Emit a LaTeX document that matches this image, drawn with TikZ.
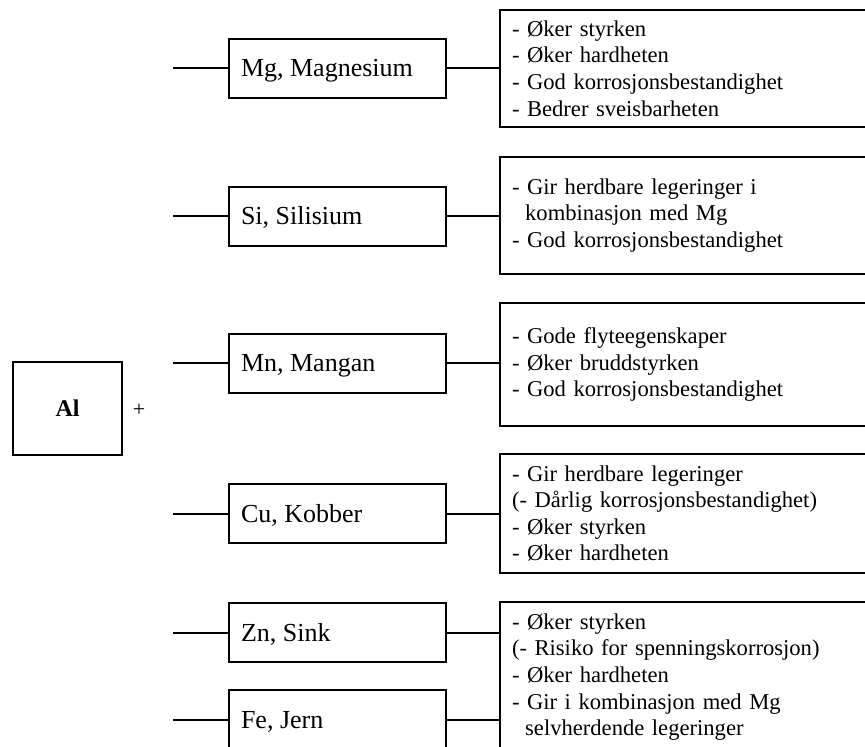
\documentclass[tikz,border=0pt]{standalone}
\usepackage{fontspec}
\setmainfont{Liberation Serif}

\newcommand{\elabel}[1]{\makebox[193pt][l]{#1}}

\begin{document}
\begin{tikzpicture}[x=1pt, y=-1pt, line cap=rect, line join=miter,
	wire/.style={black, line width=2pt},
	elem/.style={draw, line width=2pt, minimum height=59pt, minimum width=217pt,
		text height=17.7pt, text depth=0pt,
		inner xsep=12pt, inner ysep=0pt, font=\fontsize{26}{30}\selectfont},
	props/.style={draw, line width=2pt, anchor=west, text width=380pt,
		inner xsep=12pt, inner ysep=0pt, align=left, font=\fontsize{22.6}{26.6}\selectfont}]
	
	\useasboundingbox (0,0) rectangle (865,747);
	\clip (0,0) rectangle (865,747);
	
	%base metal
	\node [draw, line width=2pt, minimum width=109pt, minimum height=93pt,
	font=\fontsize{24}{28}\selectfont\bfseries] (al) at (67.5,408.5) {Al};
	\node [font=\fontsize{22}{26}\selectfont] (plus) at (139,410) {+};
	
	%alloying elements
	\node [elem] (mg) at (337.5,68) {\elabel{Mg, Magnesium}};
	\node [elem] (si) at (337.5,216) {\elabel{Si, Silisium}};
	\node [elem] (mn) at (337.5,363) {\elabel{Mn, Mangan}};
	\node [elem] (cu) at (337.5,513.5) {\elabel{Cu, Kobber}};
	\node [elem] (zn) at (337.5,632.5) {\elabel{Zn, Sink}};
	\node [elem] (fe) at (337.5,719.5) {\elabel{Fe, Jern}};
	
	%properties
	\node [props, minimum height=117pt] (mgprops) at (499,68.5) 
	{- Øker styrken\\- Øker hardheten\\- God korrosjonsbestandighet\\- Bedrer sveisbarheten};
	\node [props, minimum height=117pt] (siprops) at (499,215.5) 
	{- Gir herdbare legeringer i\\\hspace*{0.583em}kombinasjon med Mg\\- God korrosjonsbestandighet};
	\node [props, minimum height=123pt] (mnprops) at (499,364.5) 
	{- Gode flyteegenskaper\\- Øker bruddstyrken\\- God korrosjonsbestandighet};
	\node [props, minimum height=119pt] (cuprops) at (499,513.5) 
	{- Gir herdbare legeringer\\(- Dårlig korrosjonsbestandighet)\\- Øker styrken\\- Øker hardheten};
	\node [props, minimum height=150pt] (znfeprops) at (499,677) 
	{- Øker styrken\\(- Risiko for spenningskorrosjon)\\- Øker hardheten\\- Gir i kombinasjon med Mg\\\hspace*{0.583em}selvherdende legeringer};
	
	\foreach \e in {mg,si,mn,cu,zn,fe}{
		\draw [wire] (\e.west) -- ++(-54,0) coordinate (\e-stub);
	}
	
	\foreach \e/\p in {mg/mgprops,si/siprops,mn/mnprops,cu/cuprops,zn/znfeprops,fe/znfeprops}{
		\draw [wire] (\e.east) -- (\e.east -| \p.west);
	}
	
\end{tikzpicture}
\end{document}
